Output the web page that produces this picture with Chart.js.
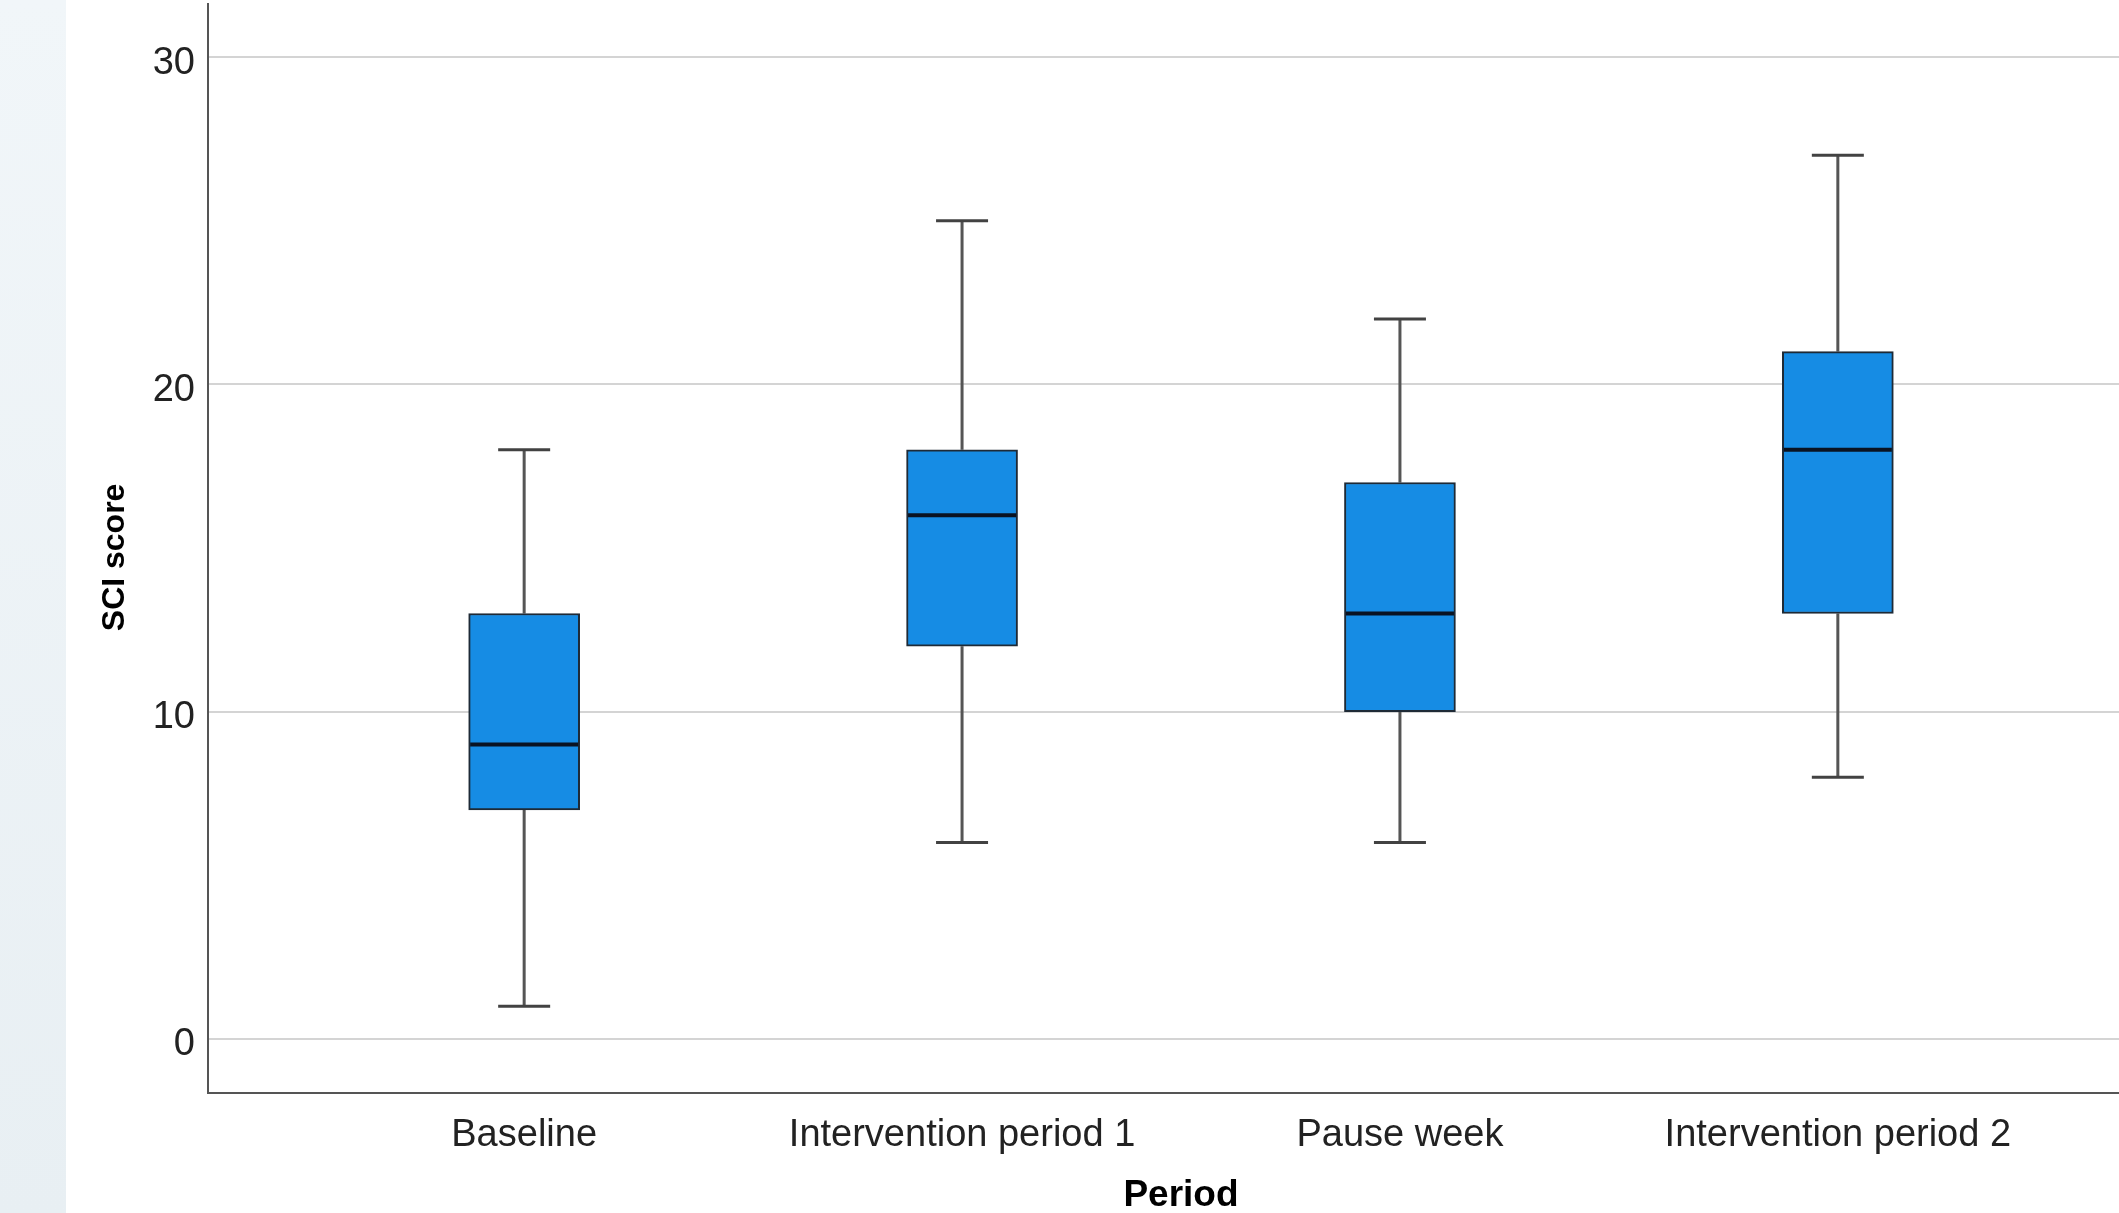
<!DOCTYPE html>
<html>
<head>
<meta charset="utf-8">
<script src="https://cdn.jsdelivr.net/npm/chart.js@4.4.1/dist/chart.umd.min.js"></script>
<style>
  html, body { margin: 0; padding: 0; background: #ffffff; overflow: hidden; width: 2119px; height: 1213px; }
  #strip { position: absolute; left: 0; top: 0; width: 66px; height: 1213px;
           background: linear-gradient(to bottom, #f1f6f9, #e8eff3); }
  #c { position: absolute; left: 0; top: 0; }
</style>
</head>
<body>
<div id="strip"></div>
<canvas id="c" width="2154" height="1213"></canvas>
<script>
// ---- data ----
const categories  = ['Baseline', 'Intervention period 1', 'Pause week', 'Intervention period 2'];
const whiskerLow  = [1, 6, 6, 8];
const q1          = [7, 12, 10, 13];
const median      = [9, 16, 13, 18];
const q3          = [13, 18, 17, 21];
const whiskerHigh = [18, 25, 22, 27];
const yTicks      = [0, 10, 20, 30];
const xTitle      = 'Period';
const yTitle      = 'SCI score';

// ---- build datasets from the arrays ----
const boxData = categories.map((c, i) => ({ x: i, y: [q1[i], q3[i]] }));
const medianData = categories.map((c, i) => ({ x: i, y: median[i] }));
const capData = [];
categories.forEach((c, i) => {
  capData.push({ x: i, y: whiskerLow[i] });
  capData.push({ x: i, y: whiskerHigh[i] });
});
const whiskerData = [];
categories.forEach((c, i) => {
  whiskerData.push({ x: i, y: whiskerLow[i] });
  whiskerData.push({ x: i, y: q1[i] });
  whiskerData.push({ x: i + 0.5, y: null });
  whiskerData.push({ x: i, y: q3[i] });
  whiskerData.push({ x: i, y: whiskerHigh[i] });
  whiskerData.push({ x: i + 0.5, y: null });
});

const FONT = "'Liberation Sans', Arial, Helvetica, sans-serif";

new Chart(document.getElementById('c'), {
  type: 'bar',
  data: {
    datasets: [
      {
        type: 'line',
        data: whiskerData,
        borderColor: '#555555',
        borderWidth: 3,
        pointRadius: 0,
        spanGaps: false,
        fill: false,
        order: 4
      },
      {
        type: 'bar',
        data: boxData,
        backgroundColor: '#168ce4',
        borderColor: '#1e2a36',
        borderWidth: 2,
        borderSkipped: false,
        barThickness: 111,
        order: 3
      },
      {
        type: 'line',
        data: capData,
        showLine: false,
        pointStyle: 'line',
        pointRadius: 26,
        pointBorderWidth: 3,
        pointBorderColor: '#424242',
        pointBackgroundColor: '#424242',
        order: 2
      },
      {
        type: 'line',
        data: medianData,
        showLine: false,
        pointStyle: 'line',
        pointRadius: 54,
        pointBorderWidth: 4,
        pointBorderColor: '#0a1322',
        pointBackgroundColor: '#0a1322',
        order: 1
      }
    ]
  },
  options: {
    responsive: false,
    animation: false,
    events: [],
    layout: { autoPadding: false, padding: { top: 4, right: 0, left: 0, bottom: 0 } },
    plugins: { legend: { display: false }, tooltip: { enabled: false } },
    scales: {
      x: {
        type: 'linear',
        offset: false,
        min: -0.722,
        max: 3.722,
        afterBuildTicks: (s) => { s.ticks = categories.map((c, i) => ({ value: i })); },
        afterFit: (s) => { s.height = 120; s.paddingLeft = 0; s.paddingRight = 0; },
        grid: { display: false, drawTicks: false, offset: false },
        border: { display: true, color: '#555555', width: 2 },
        ticks: {
          autoSkip: false,
          maxRotation: 0,
          padding: 20,
          color: '#222222',
          font: { family: FONT, size: 38 },
          callback: (v) => categories[v] ?? ''
        },
        title: {
          display: true,
          text: xTitle,
          color: '#000000',
          font: { family: FONT, size: 37, weight: 'bold' },
          padding: { top: 0, bottom: -5 }
        }
      },
      y: {
        min: -1.65,
        max: 31.62,
        afterBuildTicks: (s) => { s.ticks = yTicks.map(v => ({ value: v })); },
        afterFit: (s) => { s.width = 208; s.paddingTop = 0; s.paddingBottom = 0; },
        grid: { color: '#d4d4d4', lineWidth: 2, drawTicks: false },
        border: { display: true, color: '#555555', width: 2 },
        ticks: {
          padding: 13,
          labelOffset: 6,
          color: '#222222',
          font: { family: FONT, size: 38 }
        },
        title: {
          display: true,
          text: yTitle + '  ',
          color: '#000000',
          font: { family: FONT, size: 32, weight: 'bold' },
          padding: { top: 96, bottom: 0 }
        }
      }
    }
  }
});
</script>
</body>
</html>
